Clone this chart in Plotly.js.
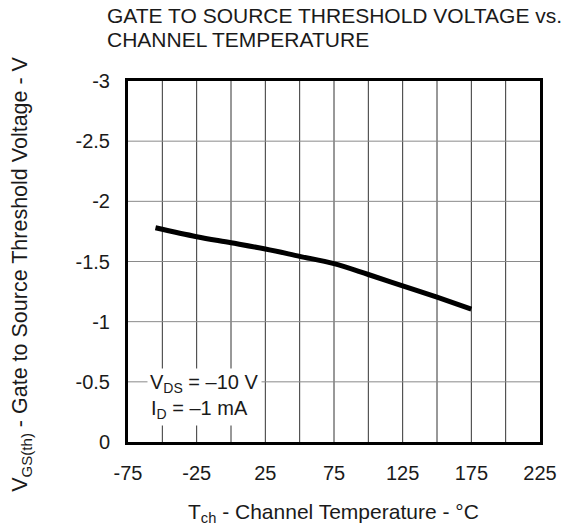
<!DOCTYPE html>
<html>
<head>
<meta charset="utf-8">
<script src="https://cdn.plot.ly/plotly-3.0.1.min.js"></script>
<style>html,body{margin:0;padding:0;background:#fff;}#chart{width:562px;height:531px;}</style>
</head>
<body>
<div id="chart"></div>
<script>
const tempC = [-55, -25, 0, 25, 50, 75, 100, 125, 150, 175];
const vgsth = [-1.78, -1.706, -1.656, -1.604, -1.543, -1.482, -1.392, -1.298, -1.203, -1.105];
const xTickVals = [-75, -25, 25, 75, 125, 175, 225];
const xTickText = ["-75", "-25", "25", "75", "125", "175", "225"];
const yTickVals = [0, -0.5, -1, -1.5, -2, -2.5, -3];
const yTickText = ["0", "-0.5", "-1", "-1.5", "-2", "-2.5", "-3"];
const xGrid = [-50, -25, 0, 25, 50, 75, 100, 125, 150, 175, 200];
const yGrid = [-0.5, -1, -1.5, -2, -2.5];
const titleLines = ["GATE TO SOURCE THRESHOLD VOLTAGE vs.", "CHANNEL TEMPERATURE"];
const conditionLines = ["V<sub>DS</sub> = –10 V", "I<sub>D</sub> = –1 mA"];
const xTitle = 'T<sub>ch</sub> - Channel Temperature - °C';
const yTitle = 'V<sub>GS(th)</sub> - Gate to Source Threshold Voltage - V';

const font = "Arial, 'Liberation Sans', sans-serif";
const txt = '#1a1a1a';
const shapes = [];
xGrid.forEach(v => shapes.push({type:'line', xref:'x', yref:'paper', x0:v, x1:v, y0:0, y1:1, line:{color:'#333', width:1}, layer:'below'}));
yGrid.forEach(v => shapes.push({type:'line', xref:'paper', yref:'y', x0:0, x1:1, y0:v, y1:v, line:{color:'#8a8a8a', width:1}, layer:'below'}));

const trace = {x: tempC, y: vgsth, mode:'lines', line:{color:'#000', width:5, shape:'spline', smoothing:1}, hoverinfo:'skip'};

const layout = {
  width:562, height:531,
  margin:{l:128, r:22, t:81, b:89},
  paper_bgcolor:'#fff', plot_bgcolor:'#fff',
  font:{family:font, size:20, color:txt},
  showlegend:false,
  xaxis:{range:[-75,225], tickvals:xTickVals, ticktext:xTickText, ticks:'', showgrid:false, zeroline:false,
    showline:true, mirror:true, linecolor:'#000', linewidth:3, ticklabelstandoff:11,
    tickfont:{family:font, size:20, color:txt}},
  yaxis:{range:[0,-3], tickvals:yTickVals, ticktext:yTickText, ticks:'', showgrid:false, zeroline:false,
    showline:true, mirror:true, linecolor:'#000', linewidth:3, ticklabelstandoff:11,
    tickfont:{family:font, size:20, color:txt}},
  shapes: shapes,
  annotations:[
    {x:-0.056, y:1.1814, xref:'paper', yref:'paper', xanchor:'left', yanchor:'middle', showarrow:false, text:titleLines[0], font:{family:font, size:21, color:txt}},
    {x:-0.056, y:1.1150, xref:'paper', yref:'paper', xanchor:'left', yanchor:'middle', showarrow:false, text:titleLines[1], font:{family:font, size:21, color:txt}},
    {x:0.4995, y:-0.198, xref:'paper', yref:'paper', xanchor:'center', yanchor:'middle', showarrow:false, text:xTitle, font:{family:font, size:21, color:txt}},
    {x:-0.2573, y:0.466, xref:'paper', yref:'paper', xanchor:'center', yanchor:'middle', textangle:-90, showarrow:false, text:yTitle, font:{family:font, size:21.5, color:txt}},
    {x:-61.5, y:-0.49, xref:'x', yref:'y', xanchor:'left', yanchor:'middle', showarrow:false, text:conditionLines[0], bgcolor:'#fff', borderpad:2, font:{family:font, size:20, color:txt}},
    {x:-61.5, y:-0.266, xref:'x', yref:'y', xanchor:'left', yanchor:'middle', showarrow:false, text:conditionLines[1], bgcolor:'#fff', borderpad:3, font:{family:font, size:20, color:txt}}
  ]
};
Plotly.newPlot('chart', [trace], layout, {staticPlot:true});
</script>
</body>
</html>
